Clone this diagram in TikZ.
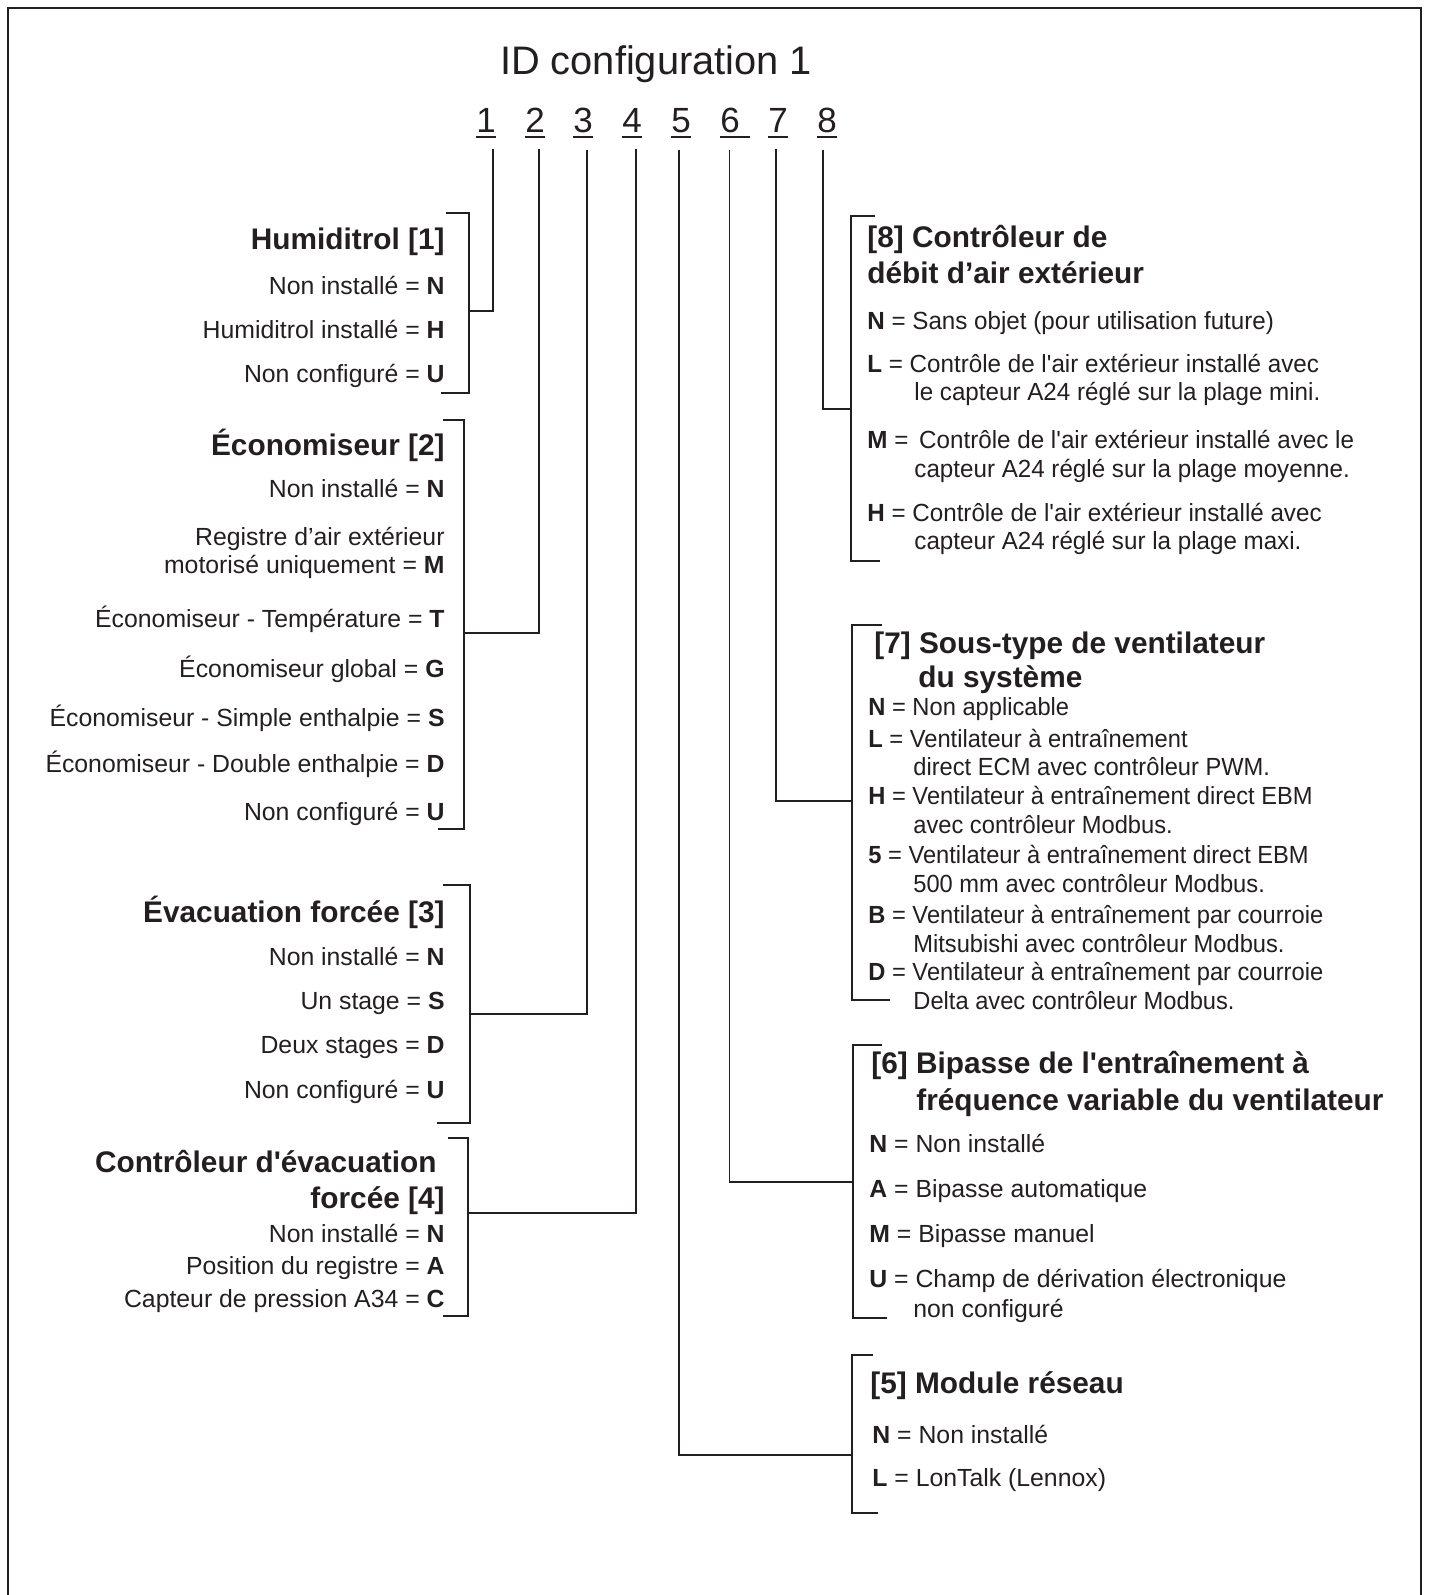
\documentclass[tikz,border=0pt]{standalone}
\usepackage{fontspec}
\setmainfont{Liberation Sans}
\newfontfamily\narrowA[FakeStretch=0.975]{Liberation Sans}
\newfontfamily\narrowB[FakeStretch=0.955]{Liberation Sans}
\definecolor{ink}{RGB}{35,31,32}

\begin{document}
\begin{tikzpicture}[
    x=0.5pt, y=-0.5pt, color=ink,
    opt/.style={font=\fontsize{12.4}{14}\selectfont, inner sep=0pt},
    optL/.style={opt, anchor=base east},
    optR/.style={opt, anchor=base west},
    optA/.style={optR, font=\narrowA\fontsize{12.4}{14}\selectfont},
    optB/.style={optR, font=\narrowB\fontsize{12.4}{14}\selectfont},
    hd/.style={font=\fontsize{14.9}{17}\selectfont\bfseries, inner sep=0pt},
    hdL/.style={hd, anchor=base east},
    hdR/.style={hd, anchor=base west},
    digit/.style={font=\fontsize{17.5}{20}\selectfont, anchor=base west,
                  inner sep=0pt},
    uline/.style={line width=0.9pt},
    brk/.style={line width=0.8pt},
    tap/.style={line width=0.8pt, shorten <=8pt}
  ]
  \useasboundingbox (0,0) rectangle (1429,1595);
  \draw[line width=1.4pt] (8,1595) |- (1421,8) -- (1421,1595);

  \node[font=\fontsize{19.9}{22}\selectfont, anchor=base] (title) at (656,75)
    {ID configuration 1};

  % Digits
  \node[digit] (d1) at (476,133) {1};
  \node[digit] (d2) at (525,133) {2};
  \node[digit] (d3) at (573,133) {3};
  \node[digit] (d4) at (622,133) {4};
  \node[digit] (d5) at (671,133) {5};
  \node[digit] (d6) at (720,133) {6\kern5pt};
  \node[digit] (d7) at (768,133) {7};
  \node[digit] (d8) at (817,133) {8};
  \draw[uline] ([yshift=-2pt]d1.base west) -- ([yshift=-2pt]d1.base east);
  \draw[uline] ([yshift=-2pt]d2.base west) -- ([yshift=-2pt]d2.base east);
  \draw[uline] ([yshift=-2pt]d3.base west) -- ([yshift=-2pt]d3.base east);
  \draw[uline] ([yshift=-2pt]d4.base west) -- ([yshift=-2pt]d4.base east);
  \draw[uline] ([yshift=-2pt]d5.base west) -- ([yshift=-2pt]d5.base east);
  \draw[uline] ([yshift=-2pt]d6.base west) -- ([yshift=-2pt]d6.base east);
  \draw[uline] ([yshift=-2pt]d7.base west) -- ([yshift=-2pt]d7.base east);
  \draw[uline] ([yshift=-2pt]d8.base west) -- ([yshift=-2pt]d8.base east);

  % Humiditrol [1]
  \node[hdL] (g1) at (445,249) {Humiditrol [1]};
  \node[optL] (g1n) at (445,294) {Non installé = \textbf{N}};
  \node[optL] (g1h) at (445,338) {Humiditrol installé = \textbf{H}};
  \node[optL] (g1u) at (445,382) {Non configuré = \textbf{U}};
  \coordinate (b1) at (469,311);
  \draw[brk] (446,213) -| (b1) |- (441,393);

  % Economiseur [2]
  \node[hdL] (g2) at (445,455) {Économiseur [2]};
  \node[optL] (g2n) at (445,497) {Non installé = \textbf{N}};
  \node[optL] (g2r) at (445,545) {Registre d’air extérieur};
  \node[optL] (g2m) at (445,573) {motorisé uniquement = \textbf{M}};
  \node[optL] (g2t) at (445,627) {Économiseur - Température = \textbf{T}};
  \node[optL] (g2g) at (445,677) {Économiseur global = \textbf{G}};
  \node[optL] (g2s) at (445,726) {Économiseur - Simple enthalpie = \textbf{S}};
  \node[optL] (g2d) at (445,772) {Économiseur - Double enthalpie = \textbf{D}};
  \node[optL] (g2u) at (445,820) {Non configuré = \textbf{U}};
  \coordinate (b2) at (464,633);
  \draw[brk] (443,420) -| (b2) |- (438,829);

  % Evacuation forcee [3]
  \node[hdL] (g3) at (445,922) {Évacuation forcée [3]};
  \node[optL] (g3n) at (445,965) {Non installé = \textbf{N}};
  \node[optL] (g3s) at (445,1009) {Un stage = \textbf{S}};
  \node[optL] (g3d) at (445,1053) {Deux stages = \textbf{D}};
  \node[optL] (g3u) at (445,1098) {Non configuré = \textbf{U}};
  \coordinate (b3) at (470,1014);
  \draw[brk] (443,885) -| (b3) |- (437,1123);

  % Controleur d'evacuation forcee [4]
  \node[hdL] (g4) at (437,1172) {Contrôleur d\textquotesingle évacuation};
  \node[hdL] (g4b) at (445,1208) {forcée [4]};
  \node[optL] (g4n) at (445,1242) {Non installé = \textbf{N}};
  \node[optL] (g4a) at (445,1274) {Position du registre = \textbf{A}};
  \node[optL] (g4c) at (445,1307) {Capteur de pression A34 = \textbf{C}};
  \coordinate (b4) at (468,1213);
  \draw[brk] (448,1138) -| (b4) |- (443,1316);

  % [8] Controleur de debit d'air exterieur
  \node[hdR] (g8) at (867,247) {[8] Contrôleur de};
  \node[hdR] (g8b) at (867,283) {débit d’air extérieur};
  \node[optA] (g8n) at (867,329) {\textbf{N} = Sans objet (pour utilisation future)};
  \node[optA] (g8l) at (867,372)
    {\textbf{L} = Contrôle de l\textquotesingle air extérieur installé avec};
  \node[optA] (g8l2) at (914,400) {le capteur A24 réglé sur la plage mini.};
  \node[optA] (g8m) at (867,448)
    {\textbf{M} = \,Contrôle de l\textquotesingle air extérieur installé avec le};
  \node[optA] (g8m2) at (914,477) {capteur A24 réglé sur la plage moyenne.};
  \node[optA] (g8h) at (867,521)
    {\textbf{H} = Contrôle de l\textquotesingle air extérieur installé avec};
  \node[optA] (g8h2) at (914,549) {capteur A24 réglé sur la plage maxi.};
  \coordinate (b8) at (851,409);
  \draw[brk] (875,216) -| (b8) |- (880,561);

  % [7] Sous-type de ventilateur du systeme
  \node[hdR] (g7) at (874,653) {[7] Sous-type de ventilateur};
  \node[hdR] (g7b) at (918,687) {du système};
  \node[optB] (g7n) at (868,715) {\textbf{N} = Non applicable};
  \node[optB] (g7l) at (868,747) {\textbf{L} = Ventilateur à entraînement};
  \node[optB] (g7l2) at (913,775) {direct ECM avec contrôleur PWM.};
  \node[optB] (g7h) at (868,804) {\textbf{H} = Ventilateur à entraînement direct EBM};
  \node[optB] (g7h2) at (913,833) {avec contrôleur Modbus.};
  \node[optB] (g75) at (868,863) {\textbf{5} = Ventilateur à entraînement direct EBM};
  \node[optB] (g752) at (913,892) {500 mm avec contrôleur Modbus.};
  \node[optB] (g7b1) at (868,923) {\textbf{B} = Ventilateur à entraînement par courroie};
  \node[optB] (g7b2) at (913,952) {Mitsubishi avec contrôleur Modbus.};
  \node[optB] (g7d) at (868,980) {\textbf{D} = Ventilateur à entraînement par courroie};
  \node[optB] (g7d2) at (913,1009) {Delta avec contrôleur Modbus.};
  \coordinate (b7) at (852,801);
  \draw[brk] (882,625) -| (b7) |- (890,1000);

  % [6] Bipasse VFD
  \node[hdR] (g6) at (871,1073) {[6] Bipasse de l\textquotesingle entraînement à};
  \node[hdR] (g6b) at (916,1110) {fréquence variable du ventilateur};
  \node[optR] (g6n) at (869,1152) {\textbf{N} = Non installé};
  \node[optR] (g6a) at (869,1197) {\textbf{A} = Bipasse automatique};
  \node[optR] (g6m) at (869,1242) {\textbf{M} = Bipasse manuel};
  \node[optR] (g6u) at (869,1287) {\textbf{U} = Champ de dérivation électronique};
  \node[optR] (g6u2) at (913,1317) {non configuré};
  \coordinate (b6) at (853,1182);
  \draw[brk] (882,1045) -| (b6) |- (887,1318);

  % [5] Module reseau
  \node[hdR] (g5) at (870,1393) {[5] Module réseau};
  \node[optR] (g5n) at (872,1443) {\textbf{N} = Non installé};
  \node[optR] (g5l) at (872,1486) {\textbf{L} = LonTalk (Lennox)};
  \coordinate (b5) at (852,1455);
  \draw[brk] (873,1355) -| (b5) |- (878,1513);

  % Digit connectors
  \draw[tap] ([xshift=3.5pt]d1.south) |- (b1);
  \draw[tap] ([xshift=2pt]d2.south) |- (b2);
  \draw[tap] ([xshift=2pt]d3.south) |- (b3);
  \draw[tap] ([xshift=2pt]d4.south) |- (b4);
  \draw[tap] ([xshift=-1pt]d5.south) |- (b5);
  \draw[tap] ([xshift=-2.8pt]d6.south) |- (b6);
  \draw[tap] ([xshift=-1pt]d7.south) |- (b7);
  \draw[tap] ([xshift=-2pt]d8.south) |- (b8);
\end{tikzpicture}
\end{document}
